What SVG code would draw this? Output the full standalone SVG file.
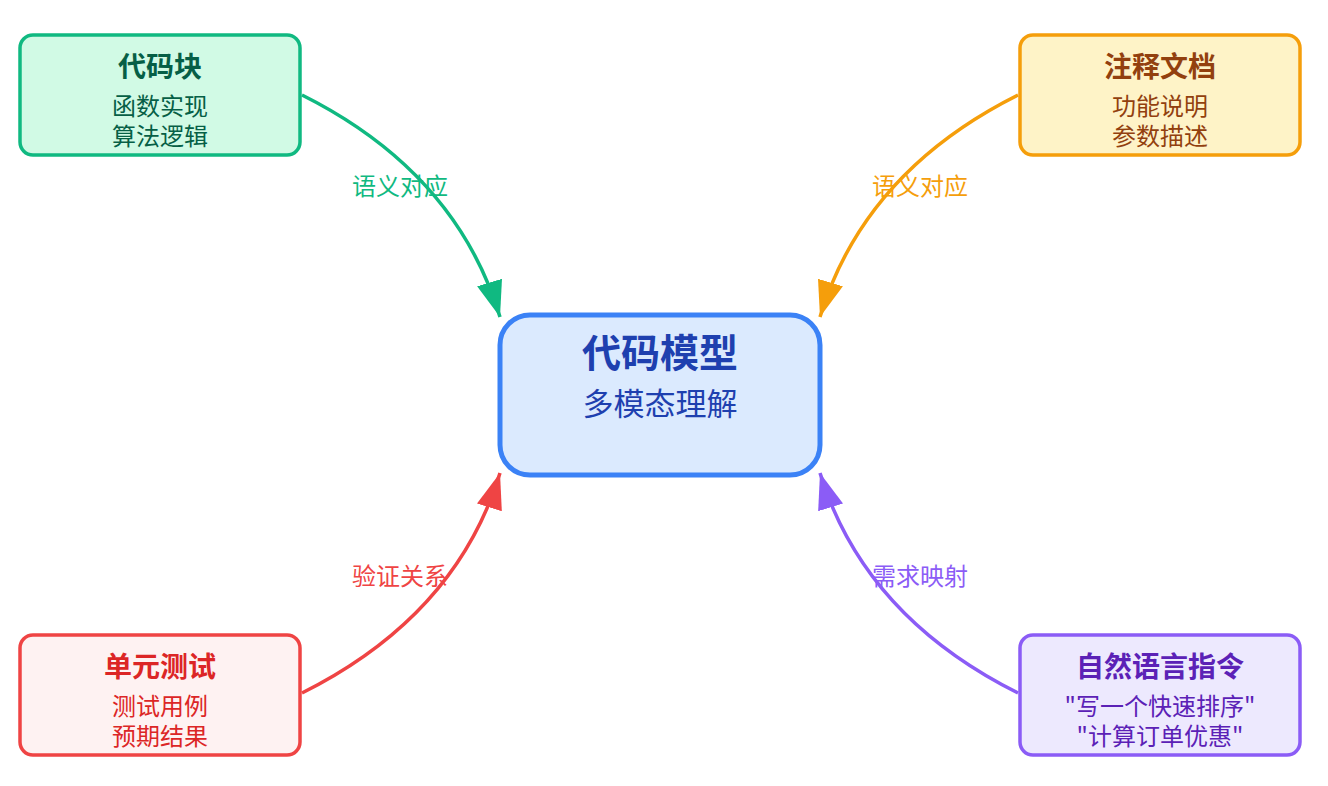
<svg xmlns="http://www.w3.org/2000/svg" width="1328" height="786" viewBox="0 0 1328 786">
<style>
text{font-family:"Noto Sans CJK SC","Noto Sans",sans-serif;text-anchor:middle}
.t{font-size:28px;font-weight:bold}
.b{font-size:24px}
.l{font-size:24px}
.side{stroke-width:3.5}
.c{fill:none;stroke-width:3.5}
</style>
<defs>
<marker id="ag" markerUnits="userSpaceOnUse" markerWidth="38" markerHeight="26" refX="36" refY="13" orient="auto"><path d="M0,0 L36,13 L0,26 z" fill="#10b981"/></marker>
<marker id="ao" markerUnits="userSpaceOnUse" markerWidth="38" markerHeight="26" refX="36" refY="13" orient="auto"><path d="M0,0 L36,13 L0,26 z" fill="#f59e0b"/></marker>
<marker id="ar" markerUnits="userSpaceOnUse" markerWidth="38" markerHeight="26" refX="36" refY="13" orient="auto"><path d="M0,0 L36,13 L0,26 z" fill="#ef4444"/></marker>
<marker id="ap" markerUnits="userSpaceOnUse" markerWidth="38" markerHeight="26" refX="36" refY="13" orient="auto"><path d="M0,0 L36,13 L0,26 z" fill="#8b5cf6"/></marker>
</defs>
<rect width="1328" height="786" fill="#ffffff"/>
<g id="connectors">
<path class="c" d="M302 95 Q456 172 500 317" stroke="#10b981" marker-end="url(#ag)"/>
<text class="l" x="400" y="195" fill="#10b981">语义对应</text>
<path class="c" d="M1018 95 Q864 172 820 317" stroke="#f59e0b" marker-end="url(#ao)"/>
<text class="l" x="920" y="195" fill="#f59e0b">语义对应</text>
<path class="c" d="M302 693 Q456 616 500 473" stroke="#ef4444" marker-end="url(#ar)"/>
<text class="l" x="400" y="585" fill="#ef4444">验证关系</text>
<path class="c" d="M1018 693 Q864 616 820 473" stroke="#8b5cf6" marker-end="url(#ap)"/>
<text class="l" x="920" y="585" fill="#8b5cf6">需求映射</text>
</g>
<g id="center">
<rect x="500" y="315" width="320" height="160" rx="30" fill="#dbeafe" stroke="#3b82f6" stroke-width="5"/>
<text x="660" y="367" font-size="39" font-weight="bold" fill="#1e40af">代码模型</text>
<text x="660" y="415" font-size="31" fill="#1e40af">多模态理解</text>
</g>
<g id="code">
<rect class="side" x="20" y="35" width="280" height="120" rx="13" fill="#d1fae5" stroke="#10b981"/>
<text class="t" x="160" y="77" fill="#065f46">代码块</text>
<text class="b" x="160" y="115" fill="#065f46">函数实现</text>
<text class="b" x="160" y="145" fill="#065f46">算法逻辑</text>
</g>
<g id="doc">
<rect class="side" x="1020" y="35" width="280" height="120" rx="13" fill="#fef3c7" stroke="#f59e0b"/>
<text class="t" x="1160" y="77" fill="#92400e">注释文档</text>
<text class="b" x="1160" y="115" fill="#92400e">功能说明</text>
<text class="b" x="1160" y="145" fill="#92400e">参数描述</text>
</g>
<g id="test">
<rect class="side" x="20" y="635" width="280" height="120" rx="13" fill="#fef2f2" stroke="#ef4444"/>
<text class="t" x="160" y="677" fill="#dc2626">单元测试</text>
<text class="b" x="160" y="715" fill="#dc2626">测试用例</text>
<text class="b" x="160" y="745" fill="#dc2626">预期结果</text>
</g>
<g id="nl">
<rect class="side" x="1020" y="635" width="280" height="120" rx="13" fill="#ede9fe" stroke="#8b5cf6"/>
<text class="t" x="1160" y="677" fill="#5b21b6">自然语言指令</text>
<text class="b" x="1160" y="715" fill="#5b21b6">"写一个快速排序"</text>
<text class="b" x="1160" y="745" fill="#5b21b6">"计算订单优惠"</text>
</g>
</svg>
